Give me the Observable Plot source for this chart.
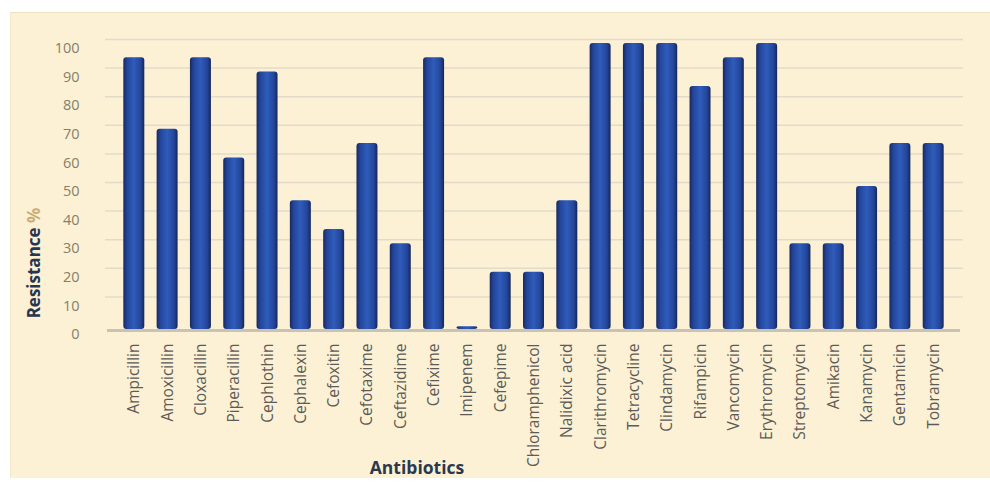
<!DOCTYPE html>
<html>
<head>
<meta charset="utf-8">
<script src="https://cdn.jsdelivr.net/npm/d3@7"></script>
<script src="https://cdn.jsdelivr.net/npm/@observablehq/plot@0.6"></script>
<style>
  html, body { margin: 0; padding: 0; background: #ffffff; }
  #panel {
    margin: 12px 0 0 10px;
    width: 980px;
    height: 466px;
    background: #fcf1d4;
    box-shadow: inset 0 1px 0 #ede2c2, inset 1px 0 0 #f1e7c9;
  }
  #panel svg { display: block; }
</style>
</head>
<body>
<div id="panel"></div>
<script>
// Antibiotic resistance (%) of the tested isolates
const antibiotics = [
  "Ampicillin", "Amoxicillin", "Cloxacillin", "Piperacillin", "Cephlothin",
  "Cephalexin", "Cefoxitin", "Cefotaxime", "Ceftazidime", "Cefixime",
  "Imipenem", "Cefepime", "Chloramphenicol", "Nalidixic acid", "Clarithromycin",
  "Tetracycline", "Clindamycin", "Rifampicin", "Vancomycin", "Erythromycin",
  "Streptomycin", "Amikacin", "Kanamycin", "Gentamicin", "Tobramycin"
];
const resistance = [
  95, 70, 95, 60, 90,
  45, 35, 65, 30, 95,
  1, 20, 20, 45, 100,
  100, 100, 85, 95, 100,
  30, 30, 50, 65, 65
];
const yTicks = [0, 10, 20, 30, 40, 50, 60, 70, 80, 90, 100];

const rows = antibiotics.map((name, i) => ({name, value: resistance[i]}));

const chart = Plot.plot({
  width: 980,
  height: 466,
  marginTop: 31,
  marginBottom: 149,
  marginLeft: 100,
  marginRight: 33,
  style: {background: "transparent", fontFamily: "'Open Sans', sans-serif"},
  x: {domain: antibiotics, paddingInner: 0.37, paddingOuter: 0.4, round: false, label: null, axis: null},
  y: {domain: [0, 100], label: null, axis: null},
  marks: [
    // back-wall gridlines
    Plot.ruleY(yTicks.filter(d => d > 0), {
      stroke: "#e2dbc9", strokeWidth: 1.5, dy: -4, insetLeft: -5, insetRight: -6
    }),
    // floor
    Plot.ruleY([0], {stroke: "#c9c3b3", strokeWidth: 3, dy: 1, insetLeft: -3, insetRight: -3}),
    // cylinder-shaded bars
    Plot.barY(rows, {x: "name", y: "value", fill: "url(#cyl)", rx: 3}),
    Plot.axisX({
      tickSize: 0, tickPadding: 14, tickRotate: -90,
      fontSize: 15.5, color: "#5c5b58", label: null
    }),
    Plot.axisY({
      ticks: yTicks, tickSize: 0, tickPadding: 31, dy: 5,
      fontSize: 14.5, color: "#857f69", label: null
    })
  ]
});

const svg = d3.select(chart);

// horizontal gradient giving the bars their rounded, cylindrical look
const grad = svg.insert("defs", ":first-child")
  .append("linearGradient")
  .attr("id", "cyl")
  .attr("x1", "0").attr("x2", "1").attr("y1", "0").attr("y2", "0");
[
  [0, "#17295f"], [0.18, "#24459a"], [0.5, "#2f5cbb"], [0.82, "#24469b"], [1, "#15275a"]
].forEach(([o, c]) => grad.append("stop").attr("offset", o).attr("stop-color", c));

// axis titles
const yTitle = svg.append("text")
  .attr("transform", "translate(25,251) rotate(-90)")
  .attr("text-anchor", "middle")
  .attr("dominant-baseline", "middle")
  .attr("font-family", "'Open Sans', sans-serif")
  .attr("font-weight", "bold")
  .attr("font-size", 17)
  .attr("fill", "#253552");
yTitle.append("tspan").text("Resistance ");
yTitle.append("tspan").attr("fill", "#c9ad78").text("%");

svg.append("text")
  .attr("x", 407)
  .attr("y", 462)
  .attr("text-anchor", "middle")
  .attr("font-family", "'Open Sans', sans-serif")
  .attr("font-weight", "bold")
  .attr("font-size", 17.5)
  .attr("fill", "#2a3850")
  .text("Antibiotics");

document.getElementById("panel").appendChild(chart);
</script>
</body>
</html>
